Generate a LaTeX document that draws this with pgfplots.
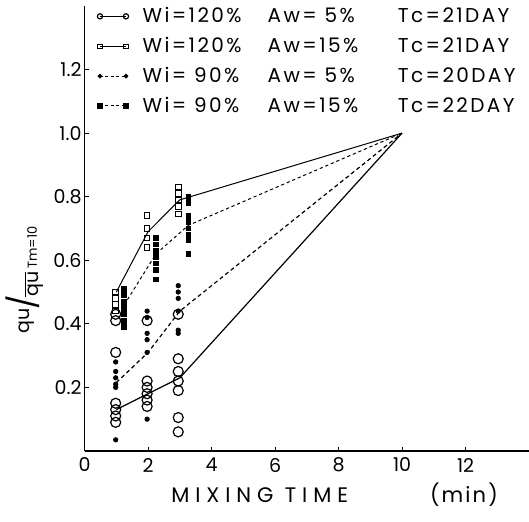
\documentclass[border=0pt]{standalone}
\usepackage{fontspec}
\setmainfont{Poppins}
\usepackage{pgfplots}
\pgfplotsset{compat=1.18}
\begin{document}
\begin{tikzpicture}
\useasboundingbox (-42.25pt,-35pt) rectangle (222pt,225.25pt);
\begin{axis}[
  at={(0pt,0pt)}, anchor=south west,
  scale only axis, width=222pt, height=222.25pt,
  xmin=0, xmax=14, ymin=0, ymax=1.4,
  axis lines*=left,
  axis line style={line width=0.7pt},
  tick align=inside, major tick length=2.2pt,
  xtick={0,2,4,6,8,10,12}, xticklabels={0,2,4,6,8,10,12},
  ytick={0.2,0.4,0.6,0.8,1.0,1.2}, yticklabels={0.2,0.4,0.6,0.8,1.0,1.2},
  tick style={black, line width=0.5pt},
  ticklabel style={font=\fontsize{9.5}{10}\selectfont},
  yticklabel style={xshift=2pt},
  /pgf/number format/assume math mode=true,
  clip=false,
  legend style={draw=none, fill=none, at={(axis cs:0.39,1.41)}, anchor=north west,
    font=\fontsize{10}{11}\selectfont\addfontfeature{LetterSpace=12},
    row sep=1.8pt, inner sep=0pt, cells={anchor=west}},
  legend cell align=left,
]
% ---- lines
\addplot[black, line width=0.6pt, forget plot] coordinates {(1,0.13) (2,0.18) (3,0.23) (10,1.0)};
\addplot[black, line width=0.5pt, forget plot] coordinates {(1,0.50) (2,0.69) (3,0.79) (10,1.0)};
\addplot[black, line width=0.6pt, dash pattern=on 2pt off 1.5pt, forget plot] coordinates {(1,0.215) (2,0.31) (3,0.44) (10,1.0)};
\addplot[black, line width=0.5pt, dash pattern=on 1.6pt off 1.4pt, forget plot] coordinates {(1.25,0.46) (2.25,0.62) (3.27,0.71) (10,1.0)};
% ---- points
\addplot[only marks, mark=o, mark size=2.5pt, black, line width=0.6pt,
  legend image code/.code={\draw[black, sharp plot, line width=0.6pt, mark=o, mark size=1.3pt] plot coordinates {(0pt,0pt) (13pt,0pt)};}]
  coordinates {(0.98,0.43) (0.98,0.41) (0.98,0.31) (0.98,0.15) (0.98,0.13) (0.98,0.11) (0.98,0.09)
  (1.97,0.41) (1.97,0.22) (1.97,0.20) (1.97,0.18) (1.97,0.16) (1.97,0.14)
  (2.95,0.43) (2.95,0.29) (2.95,0.25) (2.95,0.22) (2.95,0.19) (2.95,0.105) (2.95,0.06)};
\addlegendentry{\hspace{5pt}\makebox[62.5pt][l]{Wi=120\%}\makebox[65pt][l]{Aw=\ 5\%}Tc=21DAY}
\addplot[only marks, mark=square, mark size=1.4pt, black, line width=0.5pt,
  legend image code/.code={\draw[black, sharp plot, line width=0.4pt, mark=square, mark size=1.1pt] plot coordinates {(0pt,0pt) (13pt,0pt)};}]
  coordinates {(0.98,0.50) (0.98,0.48) (0.98,0.46) (0.98,0.44)
  (1.97,0.74) (1.97,0.70) (1.97,0.67) (1.97,0.64)
  (2.95,0.83) (2.95,0.81) (2.95,0.79) (2.95,0.77) (2.95,0.745)};
\addlegendentry{\hspace{5pt}\makebox[62.5pt][l]{Wi=120\%}\makebox[65pt][l]{Aw=15\%}Tc=21DAY}
\addplot[only marks, mark=*, mark size=1.1pt, black,
  legend image code/.code={\draw[black, sharp plot, line width=0.5pt, dash pattern=on 1.5pt off 1.2pt, mark=*, mark size=0.9pt, mark options={solid}] plot coordinates {(0pt,0pt) (13pt,0pt)};}]
  coordinates {(0.98,0.28) (0.98,0.25) (0.98,0.23) (0.98,0.21) (0.98,0.20) (0.98,0.035)
  (1.97,0.44) (1.97,0.42) (1.97,0.37) (1.97,0.35) (1.97,0.31) (1.97,0.10)
  (2.95,0.52) (2.95,0.50) (2.95,0.48) (2.95,0.44) (2.95,0.38) (2.95,0.37)};
\addlegendentry{\hspace{5pt}\makebox[62.5pt][l]{Wi=\ 90\%}\makebox[65pt][l]{Aw=\ 5\%}Tc=20DAY}
\addplot[only marks, mark=square*, mark size=1.2pt, black,
  legend image code/.code={\draw[black, sharp plot, line width=0.5pt, dash pattern=on 1.5pt off 1.2pt, mark=square*, mark size=1.1pt, mark options={solid}] plot coordinates {(0pt,0pt) (13pt,0pt)};}]
  coordinates {(1.25,0.51) (1.25,0.49) (1.25,0.47) (1.25,0.45) (1.25,0.43) (1.25,0.41) (1.25,0.39)
  (2.25,0.67) (2.25,0.65) (2.25,0.63) (2.25,0.61) (2.25,0.59) (2.25,0.57) (2.25,0.54)
  (3.27,0.80) (3.27,0.78) (3.27,0.74) (3.27,0.72) (3.27,0.70) (3.27,0.68) (3.27,0.665) (3.27,0.62)};
\addlegendentry{\hspace{5pt}\makebox[62.5pt][l]{Wi=\ 90\%}\makebox[65pt][l]{Aw=15\%}Tc=22DAY}
\end{axis}
\node[rotate=90, font=\fontsize{9.5}{10}\selectfont] at (-29.75pt,85.5pt)
  {\raisebox{2.5pt}{qu}\kern-0.5pt\scalebox{1.6}{/}\kern-1pt\raisebox{-2pt}{$\overline{\hbox{qu}}$}\,\raisebox{-1pt}{\fontsize{6.5}{7}\selectfont Tm=10}};
\node[font=\fontsize{10.5}{11}\selectfont\addfontfeature{LetterSpace=28}] at (87.5pt,-22pt)
  {MIXING TIME};
\node[font=\fontsize{10.5}{11}\selectfont\addfontfeature{LetterSpace=10}] at (189.5pt,-22pt)
  {(min)};
\end{tikzpicture}
\end{document}
